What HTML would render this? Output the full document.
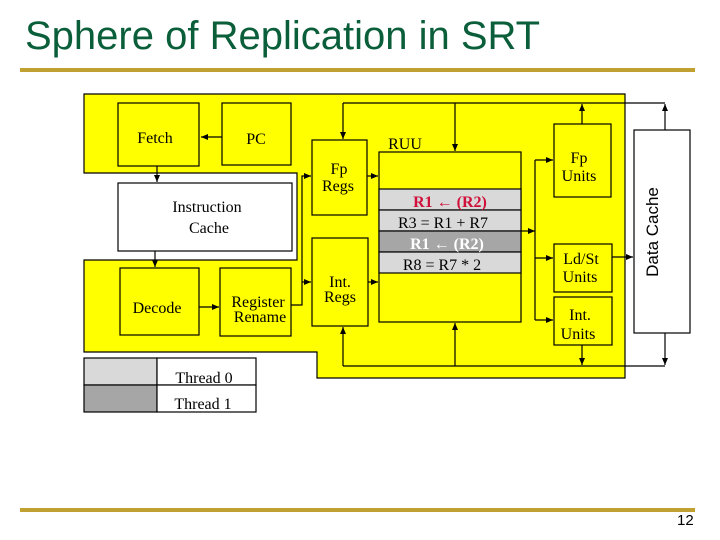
<!DOCTYPE html>
<html><head><meta charset="utf-8"><style>
body{margin:0;width:720px;height:540px;background:#fff;position:relative;overflow:hidden;font-family:"Liberation Serif",serif}
.t{position:absolute;left:25px;top:14px;font:40px "Liberation Sans",sans-serif;color:#0b5e3a;white-space:nowrap}
.l{position:absolute;height:4px;background:#c0a030}
.p{position:absolute;left:677px;top:512px;font:15px "Liberation Sans",sans-serif;color:#000}
svg{position:absolute;left:0;top:0}
svg text{font-family:"Liberation Serif",serif;font-size:16px;text-anchor:middle}
</style></head><body>
<div class="t">Sphere of Replication in SRT</div>
<div class="l" style="left:20px;top:68px;width:675px"></div>
<div class="l" style="left:20px;top:508px;width:675px"></div>
<div class="p">12</div>
<svg width="720" height="540" viewBox="0 0 720 540">
<defs><marker id="a" markerWidth="8" markerHeight="8" refX="7" refY="4" orient="auto" markerUnits="userSpaceOnUse"><path d="M0,1L7,4L0,7z" fill="#000"/></marker></defs>
<path d="M84,94H625V378H317V352H84V260H297V173H84Z" fill="#ff0" stroke="#000" stroke-width="1.2"/>
<g stroke="#000" stroke-width="1.2" fill="#ff0">
<rect x="118" y="103" width="81" height="63"/>
<rect x="222" y="103" width="69" height="62"/>
<rect x="118" y="183" width="174" height="68" fill="#fff"/>
<rect x="120" y="268" width="79" height="67"/>
<rect x="220" y="268" width="71" height="68"/>
<rect x="312" y="140" width="55" height="75"/>
<rect x="312" y="238" width="56" height="88"/>
<rect x="379" y="152" width="142" height="170"/>
<rect x="379" y="189" width="142" height="21" fill="#d9d9d9"/>
<rect x="379" y="210" width="142" height="21" fill="#d9d9d9"/>
<rect x="379" y="231" width="142" height="21" fill="#a6a6a6"/>
<rect x="379" y="252" width="142" height="21" fill="#d9d9d9"/>
<rect x="554" y="124" width="57" height="73"/>
<rect x="554" y="244" width="58" height="48"/>
<rect x="554" y="297" width="58" height="48"/>
<rect x="634" y="130" width="56" height="203" fill="#fff"/>
<rect x="84" y="358" width="73" height="27" fill="#d9d9d9"/>
<rect x="84" y="385" width="73" height="27" fill="#a6a6a6"/>
<rect x="157" y="358" width="99" height="27" fill="#fff"/>
<rect x="157" y="385" width="99" height="27" fill="#fff"/>
</g>
<g stroke="#000" stroke-width="1.2" fill="none">
<path d="M222,137H201" marker-end="url(#a)"/>
<path d="M157,166V182" marker-end="url(#a)"/>
<path d="M155,251V267" marker-end="url(#a)"/>
<path d="M199,307H219" marker-end="url(#a)"/>
<path d="M291,305H302V176H311" marker-end="url(#a)"/>
<path d="M302,282H311" marker-end="url(#a)"/>
<path d="M367,176H378" marker-end="url(#a)"/>
<path d="M368,282H378" marker-end="url(#a)"/>
<path d="M343,103H665"/>
<path d="M343,103V139" marker-end="url(#a)"/>
<path d="M455,103V151" marker-end="url(#a)"/>
<path d="M582,124V104" marker-end="url(#a)"/>
<path d="M665,130V104" marker-end="url(#a)"/>
<path d="M343,366H665"/>
<path d="M343,366V327" marker-end="url(#a)"/>
<path d="M455,366V323" marker-end="url(#a)"/>
<path d="M582,345V365" marker-end="url(#a)"/>
<path d="M665,333V365" marker-end="url(#a)"/>
<path d="M521,231H535" marker-end="url(#a)"/>
<path d="M535,160V320"/>
<path d="M535,160H553" marker-end="url(#a)"/>
<path d="M535,258H553" marker-end="url(#a)"/>
<path d="M535,320H553" marker-end="url(#a)"/>
<path d="M612,257H633" marker-end="url(#a)"/>
</g>
<text x="155" y="143">Fetch</text>
<text x="256" y="144">PC</text>
<text x="207" y="212">Instruction</text>
<text x="209" y="233">Cache</text>
<text x="157" y="313">Decode</text>
<text x="258" y="307">Register</text>
<text x="260" y="322">Rename</text>
<text x="339" y="174">Fp</text>
<text x="338" y="191">Regs</text>
<text x="340" y="287">Int.</text>
<text x="340" y="302">Regs</text>
<text x="405" y="149">RUU</text>
<text x="450" y="207" fill="#d0103a" font-weight="bold">R1 ← (R2)</text>
<text x="443" y="228">R3 = R1 + R7</text>
<text x="447" y="249" fill="#fff" font-weight="bold">R1 ← (R2)</text>
<text x="442" y="270">R8 = R7 * 2</text>
<text x="579" y="163">Fp</text>
<text x="579" y="181">Units</text>
<text x="581" y="264">Ld/St</text>
<text x="580" y="282">Units</text>
<text x="580" y="320">Int.</text>
<text x="578" y="339">Units</text>
<text x="204" y="383">Thread 0</text>
<text x="203" y="409">Thread 1</text>
<text transform="translate(658,232) rotate(-90)" style="font-family:'Liberation Sans',sans-serif;font-size:17px">Data Cache</text>
</svg>
</body></html>
